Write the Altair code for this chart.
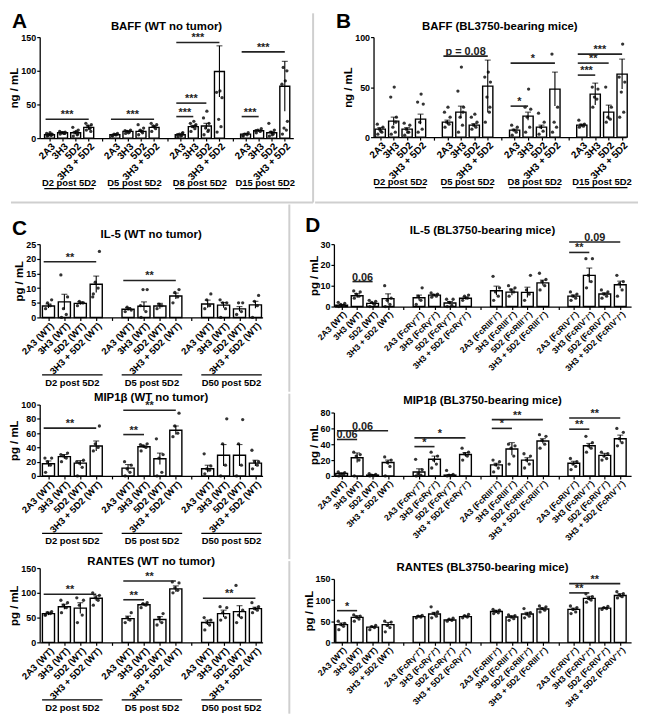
import json
import altair as alt
import pandas as pd

FONT = "Liberation Sans"
FRAME = "#cfcfcf"
BARS = ["2A3", "3H3", "5D2", "3H3 + 5D2"]

# ---------------- Panel A: BAFF (WT no tumor) ----------------
A_GROUPS = ["D2 post 5D2", "D5 post 5D2", "D8 post 5D2", "D15 post 5D2"]
A_MEAN = [[5, 8, 8, 16], [5, 10, 10, 16], [5, 17, 18, 99], [6, 11, 8, 77]]
A_SEM = [[1, 1, 2, 2.5], [0.8, 1, 1.5, 2], [0.8, 2, 4, 38], [1, 1, 2, 37]]
A_PTS = [
    [[3, 4, 5, 6, 7, 8, 5, 4], [6, 7, 8, 9, 10, 8, 7], [3, 5, 8, 12, 16, 10, 6], [12, 15, 18, 20, 22, 14, 10]],
    [[3, 5, 6, 7, 4, 5], [7, 9, 10, 12, 11, 8], [5, 8, 12, 15, 20, 10], [10, 14, 18, 20, 22, 17]],
    [[2, 4, 6, 8, 5, 3, 7], [10, 14, 17, 20, 22, 25, 18], [5, 10, 15, 22, 30, 40, 12], [9, 17, 28, 60, 68, 70]],
    [[3, 5, 6, 8, 4], [8, 10, 12, 14, 11], [3, 6, 9, 12, 22, 5], [6, 12, 15, 25, 80, 85, 100, 105]],
]
A_SIG = [(0, 0, 3, 28, "***"), (1, 0, 3, 28, "***"), (2, 0, 1, 32, "***"), (2, 0, 2, 52, "***"),
         (2, 0, 3, 142, "***"), (3, 0, 1, 32, "***"), (3, 0, 3, 128, "***")]

# ---------------- Panel B: BAFF (BL3750-bearing mice) ----------------
B_MEAN = [[8, 16, 8, 18], [15, 25, 12, 51], [7, 21, 10, 48], [12, 43, 25, 63]]
B_SEM = [[1.5, 4, 1.5, 5], [2, 6, 1.5, 26], [1, 4, 2, 17], [1, 11, 7, 15]]
B_PTS = [
    [[3, 5, 8, 10, 13, 6], [3, 5, 10, 20, 40, 50, 15], [2, 5, 8, 12, 14, 5], [5, 8, 15, 33, 35, 43]],
    [[10, 13, 15, 20, 25, 30], [5, 12, 20, 30, 46, 70, 25], [8, 10, 12, 15, 20, 23], [15, 25, 40, 55, 60, 65, 30]],
    [[2, 5, 7, 10, 12], [5, 10, 20, 28, 30, 48], [3, 6, 10, 15, 24], [5, 10, 15, 30, 83]],
    [[10, 11, 12, 13, 17], [30, 38, 40, 48, 50], [15, 18, 20, 30, 50], [20, 25, 45, 55, 60, 93]],
]
B_SIG = [(1, 0, 3, 81, "p = 0.08"), (2, 0, 1, 31, "*"), (2, 0, 3, 74, "*"),
         (3, 0, 1, 62, "***"), (3, 0, 2, 74, "**"), (3, 0, 3, 83, "***")]

# ---------------- Panel C (WT no tumor) ----------------
C_GROUPS = ["D2 post 5D2", "D5 post 5D2", "D50 post 5D2"]
C_SUFFIX = [" (WT)", " (WT)", " (WT)"]
C1_MEAN = [[3.9, 5.3, 4.8, 11.3], [2.8, 3.8, 3.9, 7.3], [4.6, 4.2, 2.9, 4.3]]
C1_SEM = [[0.7, 2.6, 0.5, 2.8], [0.5, 1.5, 0.9, 1], [1.3, 0.9, 0.8, 1.2]]
C1_PTS = [
    [[3, 4, 5, 6], [0, 1, 3, 7, 14.5], [4, 5, 5.5, 5], [8, 10, 12, 22.5, 7]],
    [[2, 3, 3.5, 2.5], [0, 2, 9.5, 9.5, 4], [3, 4, 4.5], [5, 7, 8.5, 9.5]],
    [[3, 4, 6, 8], [0, 3, 5, 5, 6], [1, 2, 5, 5], [0, 4, 5.5, 7.5]],
]
C1_SIG = [(0, 0, 3, 19, "**"), (1, 0, 3, 12.6, "**")]

C2_MEAN = [[17, 27, 18, 42], [11, 41, 24, 64], [10, 29, 29, 18]]
C2_SEM = [[4, 3, 3.5, 7], [5, 2, 8, 6], [5, 15, 15, 4]]
C2_PTS = [
    [[5, 15, 20, 25, 25], [20, 25, 28, 32, 30], [0, 12, 18, 22, 20], [35, 40, 45, 70]],
    [[0, 5, 10, 15, 20], [35, 40, 42, 45, 44], [0, 5, 25, 30, 52], [55, 60, 70, 88]],
    [[3, 8, 10, 14, 31], [0, 15, 45, 80], [0, 15, 45, 79], [10, 15, 20, 20, 36]],
]
C2_SIG = [(0, 0, 3, 67, "**"), (1, 0, 1, 58, "**"), (1, 0, 3, 92, "**")]

C3_MEAN = [[58, 72, 69, 89], [48, 76, 46, 108], [40, 58, 62, 68]]
C3_SEM = [[3, 5, 11, 5], [5, 2, 6, 6], [5, 7, 12, 3]]
C3_PTS = [
    [[55, 58, 60, 62, 55], [60, 70, 75, 80, 85], [40, 55, 75, 85, 90], [75, 85, 90, 95, 100]],
    [[40, 45, 50, 60], [70, 75, 78, 80], [35, 40, 50, 58], [100, 105, 110, 120, 122]],
    [[25, 35, 40, 45, 50], [45, 50, 60, 70, 72], [40, 50, 55, 65, 115], [60, 65, 68, 72, 80]],
]
C3_SIG = [(0, 0, 3, 97, "**"), (1, 0, 1, 86, "**"), (1, 0, 3, 124, "**"), (2, 0, 3, 89, "**")]

# ---------------- Panel D (BL3750-bearing mice) ----------------
D_SUFFIX = [" (WT)", " (FcRγ⁻/⁻)", " (FcRIII⁻/⁻)", " (FcRIV⁻/⁻)"]
D1_MEAN = [[0.7, 5.2, 1.5, 3.8], [4.2, 5.5, 1.7, 4], [7.6, 6.9, 6.8, 11.4], [5, 15, 6, 10.5]]
D1_SEM = [[0.3, 1, 0.5, 2.3], [1.3, 0.4, 0.7, 0.6], [2.2, 1.5, 2.5, 1.3], [0.6, 3.5, 0.6, 1.7]]
D1_PTS = [
    [[0, 0.5, 1, 1.5, 2], [4, 5, 6, 7, 7.5], [0, 1, 2, 2.5, 3], [0, 1, 3, 4, 10]],
    [[1, 3, 5, 9], [4.5, 5, 5.5, 6, 6.5], [0, 0.5, 2, 3.5, 3.5], [3, 4, 5, 5.5]],
    [[3, 5, 7, 9, 14.5], [5, 7, 8, 9, 10], [3, 6, 8, 15], [8, 10, 12, 13, 16]],
    [[3, 4, 5, 6, 7], [9, 12, 15, 23, 23], [4, 5, 6, 7, 8], [5, 8, 11, 12, 15]],
]
D1_SIG = [(0, 1, 2, 12, "0.06"), (3, 0, 1, 26, "**"), (3, 0, 3, 31, "0.09")]

D2_MEAN = [[3, 23, 1, 17], [5, 21, 1, 27], [14, 34, 20, 44], [16, 38, 26, 47]]
D2_SEM = [[1, 6, 0.5, 3], [4, 4, 0.5, 2.5], [2, 8, 3, 3], [2.5, 3, 2.5, 4.5]]
D2_PTS = [
    [[0, 1, 2, 4, 5], [0, 20, 25, 27, 30], [0, 0.5, 1, 2, 3], [0, 12, 17, 20, 24]],
    [[0, 1, 3, 8, 21], [10, 15, 20, 25, 30], [0, 0.5, 1, 2, 7], [20, 25, 28, 30, 35]],
    [[5, 10, 14, 18, 20], [15, 25, 35, 38, 40], [10, 15, 20, 25, 28], [35, 40, 45, 50, 52]],
    [[8, 12, 15, 18, 22], [30, 35, 38, 42, 50], [20, 22, 25, 28, 30], [38, 42, 47, 55, 60]],
]
D2_SIG = [(0, 0, 1, 46, "0.06"), (0, 0, 3, 57, "0.06"), (1, 0, 1, 37, "*"), (1, 0, 3, 48, "*"),
          (2, 0, 1, 60, "*"), (2, 0, 3, 71, "**"), (3, 0, 1, 59, "**"), (3, 0, 3, 73, "**")]

D3_MEAN = [[42, 59, 36, 42], [61, 67, 53, 61], [73, 60, 67, 79], [78, 104, 81, 111]]
D3_SEM = [[4, 4, 2, 5], [2, 4, 1.5, 2], [3, 3, 4, 3], [3, 5, 1.5, 4]]
D3_PTS = [
    [[30, 38, 42, 45, 50], [50, 55, 60, 62, 65], [30, 35, 37, 40], [25, 35, 40, 48, 50]],
    [[58, 60, 62, 64], [58, 62, 68, 72, 84], [50, 52, 55, 57], [58, 60, 63, 66]],
    [[68, 70, 73, 76, 78], [52, 56, 60, 63, 65], [58, 62, 67, 70, 80], [72, 76, 80, 84, 86]],
    [[68, 72, 78, 82, 86], [95, 100, 104, 108, 115], [78, 80, 82, 85], [105, 108, 112, 115, 120]],
]
D3_SIG = [(0, 0, 1, 75, "*"), (3, 0, 1, 117, "**"), (3, 0, 3, 139, "**")]

JIT = [-0.18, 0.12, -0.06, 0.2, -0.22, 0.04, 0.16, -0.12]


def panel(title, suffixes, means, sems, pts, sig, ymax, yticks, ytitle, w, h,
          pad_l, pad_r, groups=None, gstyle=None, letter=None, letter_xy=(0, 0), toff=6, lfs=9,
          frames=()):
    ng = len(means)
    n_slots = ng * 5 - 1
    labels = []
    for g in range(ng):
        for b in range(4):
            labels.append(BARS[b] + suffixes[g])
        if g < ng - 1:
            labels.append("")
    bars, dots, errs = [], [], []
    for g in range(ng):
        for b in range(4):
            i = g * 5 + b
            m, e = means[g][b], sems[g][b]
            bars.append(dict(xl=i - 0.38, xr=i + 0.38, m=m, z=0))
            errs.append(dict(i=i, lo=max(m - e, 0), hi=m + e))
            for k, v in enumerate(pts[g][b]):
                dots.append(dict(xj=i + JIT[k % len(JIT)], v=v))
    sig_rows = []
    for g, b1, b2, y, lab in sig:
        i1, i2 = g * 5 + b1, g * 5 + b2
        sig_rows.append(dict(x1=i1 - 0.3, x2=i2, xm=(i1 - 0.3 + i2) / 2, y=y, lab=lab))

    xs = alt.Scale(domain=[-pad_l, n_slots - 1 + pad_r], nice=False, zero=False)
    ys = alt.Scale(domain=[0, ymax], nice=False)
    xaxis = alt.Axis(values=list(range(n_slots)),
                     labelExpr=json.dumps(labels, ensure_ascii=False) + "[datum.value]",
                     labelAngle=-45, labelAlign="right", labelBaseline="top",
                     labelOverlap=False, labelFlush=False, labelBound=False, title=None, tickSize=3,
                     labelPadding=0, labelFontSize=lfs)
    yaxis = alt.Axis(values=yticks, title=ytitle, tickSize=3, labelPadding=1,
                     titlePadding=1, labelFlush=False, labelOverlap=False, labelBound=False)

    def X(f):
        return alt.X(f, scale=xs, axis=xaxis)

    def Y(f):
        return alt.Y(f, scale=ys, axis=yaxis)

    layers = []
    one = pd.DataFrame({"k": [0]})
    for (fx1, fx2, fy1, fy2, vis) in frames:
        layers.append(alt.Chart(one).mark_rule(
            color=FRAME, strokeWidth=2, opacity=1 if vis else 0).encode(
            x=alt.value(fx1), x2=alt.value(fx2), y=alt.value(fy1), y2=alt.value(fy2)))

    bar = alt.Chart(pd.DataFrame(bars)).mark_bar(
        fill="white", stroke="black", strokeWidth=1.4).encode(
        x=X("xl:Q"), x2="xr:Q", y=Y("m:Q"), y2="z:Q")
    dot = alt.Chart(pd.DataFrame(dots)).mark_circle(size=11, color="#111", opacity=0.85).encode(
        x=X("xj:Q"), y=Y("v:Q"))
    edf = pd.DataFrame(errs)
    erule = alt.Chart(edf).mark_rule(color="black", strokeWidth=1.1).encode(
        x=X("i:Q"), y=Y("lo:Q"), y2="hi:Q")
    ecap = alt.Chart(edf).mark_tick(orient="horizontal", color="black", size=6, thickness=1.1).encode(
        x=X("i:Q"), y=Y("hi:Q"))
    sdf = pd.DataFrame(sig_rows)
    srule = alt.Chart(sdf).mark_rule(color="#222", strokeWidth=1.6).encode(
        x=X("x1:Q"), x2="x2:Q", y=Y("y:Q"))
    stext = alt.Chart(sdf).mark_text(baseline="bottom", dy=1, fontSize=11, fontWeight="bold",
                                     font=FONT, color="#222").encode(
        x=X("xm:Q"), y=Y("y:Q"), text="lab:N")
    layers += [bar, dot, erule, ecap, srule, stext]

    if groups:
        grows = []
        for g, name in enumerate(groups):
            c = g * 5 + 1.5
            grows.append(dict(c=c, a=c - 1.9, b=c + 1.9, name=name))
        gdf = pd.DataFrame(grows)
        if gstyle == "under":
            ty, ly = h + 48, h + 51
        else:
            ty, ly = h + 69, h + 58
        layers.append(alt.Chart(gdf).mark_text(fontSize=9.5, fontWeight="bold", font=FONT,
                                               baseline="alphabetic", color="black").encode(
            x=X("c:Q"), y=alt.value(ty), text="name:N"))
        layers.append(alt.Chart(gdf).mark_rule(color="black", strokeWidth=1.2).encode(
            x=X("a:Q"), x2="b:Q", y=alt.value(ly)))
    layers.append(alt.Chart(pd.DataFrame({"t": [title]})).mark_text(
        fontSize=11.5, fontWeight="bold", font=FONT, align="center", baseline="alphabetic",
        color="black").encode(text="t:N", x=alt.value(w / 2), y=alt.value(-toff)))
    if letter:
        layers.append(alt.Chart(pd.DataFrame({"t": [letter]})).mark_text(
            fontSize=21, fontWeight="bold", font=FONT, align="left", baseline="alphabetic",
            color="black").encode(text="t:N", x=alt.value(letter_xy[0]), y=alt.value(letter_xy[1])))

    return alt.layer(*layers).properties(width=w, height=h)


WA, HA, WB, HB = 256, 102, 255, 101
pA = panel("BAFF (WT no tumor)", ["", "", "", ""], A_MEAN, A_SEM, A_PTS, A_SIG, 150,
           [0, 50, 100, 150], "ng / mL", WA, HA, 0.75, 0.65, A_GROUPS, "under", "A", (-28, -9), 7, 10,
           frames=[(WA + 20, WA + 20, -24, HA + 65, True), (-29, WA + 20, HA + 65, HA + 65, True)])
pB = panel("BAFF (BL3750-bearing mice)", ["", "", "", ""], B_MEAN, B_SEM, B_PTS, B_SIG, 100,
           [0, 50, 100], "ng / mL", WB, HB, 0.5, 0.3, A_GROUPS, "under", "B", (-38, -9), 7, 10,
           frames=[(-59, WB + 12, HB + 66, HB + 66, True), (0, 0, -24, 0, False)])

WC, WD = 225, 300
pC1 = panel("IL-5 (WT no tumor)", C_SUFFIX, C1_MEAN, C1_SEM, C1_PTS, C1_SIG, 25,
            [0, 5, 10, 15, 20, 25], "pg / mL", WC, 74, 0.55, 0.45, C_GROUPS, "over", "C", (-28, -9), 6, 9.5,
            frames=[(0, 0, -35, 74 + 74, False)])
pC2 = panel("MIP1β (WT no tumor)", C_SUFFIX, C2_MEAN, C2_SEM, C2_PTS, C2_SIG, 100,
            [0, 20, 40, 60, 80, 100], "pg / mL", WC, 72, 0.55, 0.45, C_GROUPS, "over", toff=4, lfs=9.5,
            frames=[(0, 0, -14, 72 + 79, False)])
pC3 = panel("RANTES (WT no tumor)", C_SUFFIX, C3_MEAN, C3_SEM, C3_PTS, C3_SIG, 150,
            [0, 50, 100, 150], "pg / mL", WC, 75, 0.55, 0.45, C_GROUPS, "over", toff=3, lfs=9.5,
            frames=[(0, 0, -14, 75 + 70, False)])
pD1 = panel("IL-5 (BL3750-bearing mice)", D_SUFFIX, D1_MEAN, D1_SEM, D1_PTS, D1_SIG, 30,
            [0, 10, 20, 30], "pg / mL", WD, 63, 0.5, 0.7, letter="D", letter_xy=(-29, -12), toff=10, lfs=8.5,
            frames=[(-45, -45, -40, 63 + 86, True)])
pD2 = panel("MIP1β (BL3750-bearing mice)", D_SUFFIX, D2_MEAN, D2_SEM, D2_PTS, D2_SIG, 80,
            [0, 20, 40, 60, 80], "pg / mL", WD, 64, 0.5, 0.7, toff=9, lfs=8.5,
            frames=[(-45, -45, -19, 64 + 84, True)])
pD3 = panel("RANTES (BL3750-bearing mice)", D_SUFFIX, D3_MEAN, D3_SEM, D3_PTS, D3_SIG, 150,
            [0, 50, 100, 150], "pg / mL", WD, 64, 0.5, 0.7, toff=8, lfs=8.5,
            frames=[(-45, -45, -18, 64 + 72, True)])

top = alt.hconcat(pA, pB, spacing=0)
colC = alt.vconcat(pC1, pC2, pC3, spacing=0)
colD = alt.vconcat(pD1, pD2, pD3, spacing=0)
bottom = alt.hconcat(colC, colD, spacing=26)

chart = alt.vconcat(top, bottom, spacing=0).properties(
    padding={"left": 0, "top": 0, "right": 2, "bottom": 0}, background="white"
).configure_axis(
    labelFont=FONT, titleFont=FONT, labelFontWeight="bold", titleFontWeight="bold",
    labelFontSize=9, titleFontSize=11.5, labelColor="black", titleColor="black",
    domainColor="black", tickColor="black", domainWidth=1.3, tickWidth=1.2, grid=False
).configure_view(stroke=None)

chart.save("out.html", embed_options={"renderer": "svg", "actions": False})
